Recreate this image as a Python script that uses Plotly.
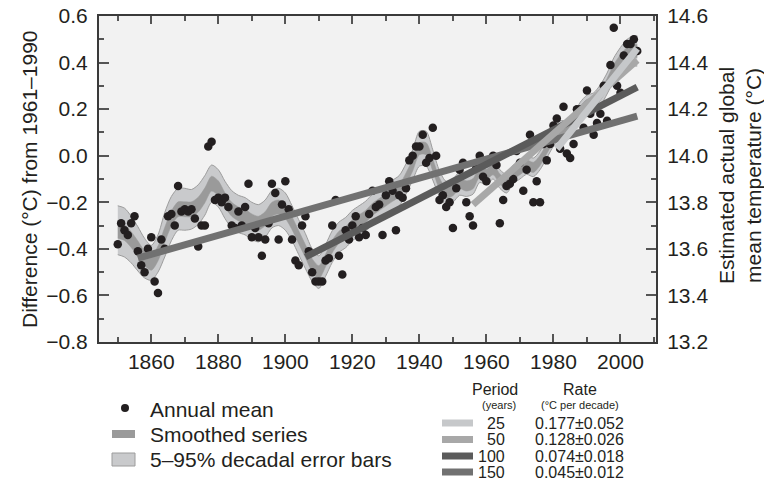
import plotly.graph_objects as go

# ---------------- data ----------------
years = list(range(1850, 2006))
annual_mean = [
    -0.38, -0.29, -0.32, -0.34, -0.29, -0.26, -0.41, -0.47, -0.50, -0.40,   # 1850-1859
    -0.35, -0.54, -0.59, -0.36, -0.40, -0.26, -0.25, -0.30, -0.13, -0.24,   # 1860-1869
    -0.23, -0.24, -0.23, -0.27, -0.39, -0.30, -0.30, 0.04, 0.06, -0.19,     # 1870-1879
    -0.18, -0.20, -0.18, -0.22, -0.30, -0.31, -0.24, -0.30, -0.22, -0.12,   # 1880-1889
    -0.35, -0.31, -0.35, -0.43, -0.36, -0.29, -0.12, -0.16, -0.36, -0.21,   # 1890-1899
    -0.11, -0.23, -0.36, -0.45, -0.47, -0.30, -0.26, -0.41, -0.50, -0.54,   # 1900-1909
    -0.54, -0.54, -0.45, -0.44, -0.30, -0.19, -0.43, -0.51, -0.32, -0.36,   # 1910-1919
    -0.30, -0.26, -0.35, -0.31, -0.34, -0.25, -0.15, -0.22, -0.21, -0.34,   # 1920-1929
    -0.17, -0.11, -0.15, -0.32, -0.17, -0.18, -0.14, -0.02, 0.00, 0.04,     # 1930-1939
    0.04, 0.09, -0.03, -0.01, 0.12, 0.00, -0.19, -0.17, -0.22, -0.20,       # 1940-1949
    -0.31, -0.14, -0.06, -0.03, -0.20, -0.26, -0.30, -0.05, 0.00, -0.09,    # 1950-1959
    -0.11, -0.02, 0.00, -0.04, -0.29, -0.19, -0.13, -0.12, -0.10, 0.02,     # 1960-1969
    -0.03, -0.15, -0.06, 0.09, -0.20, -0.11, -0.20, 0.05, -0.02, 0.05,      # 1970-1979
    0.13, 0.16, 0.03, 0.21, 0.01, -0.01, 0.05, 0.20, 0.20, 0.12,            # 1980-1989
    0.28, 0.18, 0.09, 0.14, 0.18, 0.30, 0.15, 0.39, 0.55, 0.30,             # 1990-1999
    0.27, 0.43, 0.48, 0.48, 0.50, 0.45,                                     # 2000-2005
]

smooth_years = list(range(1850, 2005, 2)) + [2005]
smoothed = [
    -0.32, -0.33, -0.36, -0.40, -0.44, -0.46, -0.42, -0.34, -0.27, -0.23,   # 1850-1868
    -0.23, -0.23, -0.21, -0.17, -0.12, -0.14, -0.19, -0.23, -0.25, -0.26,   # 1870-1888
    -0.28, -0.29, -0.27, -0.23, -0.22, -0.24, -0.29, -0.35, -0.41, -0.47,   # 1890-1908
    -0.50, -0.45, -0.39, -0.35, -0.33, -0.30, -0.28, -0.26, -0.23, -0.21,   # 1910-1928
    -0.19, -0.17, -0.15, -0.10, -0.04, 0.03, 0.03, -0.04, -0.12, -0.16,     # 1930-1948
    -0.15, -0.12, -0.13, -0.12, -0.07, -0.08, -0.06, -0.10, -0.12, -0.08,   # 1950-1968
    -0.06, -0.04, -0.05, -0.02, 0.03, 0.08, 0.11, 0.11, 0.14, 0.19,         # 1970-1988
    0.22, 0.23, 0.26, 0.31, 0.37, 0.41, 0.44, 0.45, 0.45,                   # 1990-2005
]
error_half = [
    0.105, 0.105, 0.10, 0.095, 0.085, 0.075, 0.08, 0.095, 0.095, 0.09,
    0.09, 0.085, 0.085, 0.085, 0.08, 0.08, 0.08, 0.08, 0.08, 0.08,
    0.08, 0.08, 0.08, 0.08, 0.08, 0.08, 0.075, 0.075, 0.075, 0.07,
    0.07, 0.068, 0.068, 0.065, 0.065, 0.065, 0.065, 0.065, 0.065, 0.065,
    0.065, 0.065, 0.065, 0.065, 0.065, 0.075, 0.075, 0.065, 0.055, 0.05,
    0.05, 0.05, 0.045, 0.045, 0.045, 0.045, 0.04, 0.04, 0.04, 0.04,
    0.04, 0.04, 0.04, 0.04, 0.04, 0.04, 0.04, 0.04, 0.04, 0.04,
    0.04, 0.04, 0.045, 0.045, 0.05, 0.055, 0.06, 0.065, 0.065,
]
smooth_half = [
    0.034, 0.034, 0.034, 0.034, 0.032, 0.032, 0.032, 0.032, 0.032, 0.032,
    0.032, 0.032, 0.032, 0.032, 0.032, 0.032, 0.03, 0.03, 0.03, 0.03,
    0.03, 0.03, 0.03, 0.03, 0.03, 0.03, 0.028, 0.028, 0.028, 0.028,
    0.028, 0.027, 0.027, 0.026, 0.026, 0.026, 0.026, 0.026, 0.026, 0.026,
    0.026, 0.026, 0.026, 0.026, 0.026, 0.026, 0.026, 0.026, 0.024, 0.022,
    0.022, 0.022, 0.022, 0.022, 0.022, 0.022, 0.022, 0.022, 0.022, 0.022,
    0.022, 0.022, 0.022, 0.022, 0.022, 0.022, 0.022, 0.022, 0.022, 0.022,
    0.022, 0.022, 0.022, 0.022, 0.022, 0.024, 0.026, 0.028, 0.028,
]

baseline_actual = 14.0   # 1961-1990 mean (deg C) for right axis

periods = ["25", "50", "100", "150"]
rates = ["0.177\u00b10.052", "0.128\u00b10.026", "0.074\u00b10.018", "0.045\u00b10.012"]
trend_start = [1981, 1956, 1906, 1856]
trend_end = [2005, 2005, 2005, 2005]
trend_start_val = [0.03, -0.21, -0.435, -0.44]
trend_end_val = [0.46, 0.41, 0.295, 0.17]
trend_colors = ["#c6c8ca", "#a8a8a8", "#5b5b5b", "#717171"]

x_ticks = list(range(1860, 2001, 20))

# ---------------- layout geometry (pixels) ----------------
W, H = 764, 481
L, R, T, B = 99, 656, 16, 342
FONT = "Liberation Sans, Arial, Helvetica, sans-serif"
INK = "#231f20"


def px(x):
    return (x - L) / (R - L)


def py(y):
    return (B - y) / (B - T)


fig = go.Figure()

# error band
fig.add_trace(go.Scatter(
    x=smooth_years, y=[c + h for c, h in zip(smoothed, error_half)],
    mode="lines", line=dict(color="#9c9c9c", width=1, shape="spline", smoothing=0.8),
    showlegend=False, hoverinfo="skip"))
fig.add_trace(go.Scatter(
    x=smooth_years, y=[c - h for c, h in zip(smoothed, error_half)],
    mode="lines", line=dict(color="#9c9c9c", width=1, shape="spline", smoothing=0.8),
    fill="tonexty", fillcolor="#c9cacc", showlegend=False, hoverinfo="skip"))

# smoothed series
fig.add_trace(go.Scatter(
    x=smooth_years, y=[c + h for c, h in zip(smoothed, smooth_half)],
    mode="lines", line=dict(color="#9a9a9a", width=0.5, shape="spline", smoothing=0.8),
    showlegend=False, hoverinfo="skip"))
fig.add_trace(go.Scatter(
    x=smooth_years, y=[c - h for c, h in zip(smoothed, smooth_half)],
    mode="lines", line=dict(color="#9a9a9a", width=0.5, shape="spline", smoothing=0.8),
    fill="tonexty", fillcolor="#9a9a9a", showlegend=False, hoverinfo="skip"))

# annual means
fig.add_trace(go.Scatter(
    x=years, y=annual_mean, mode="markers",
    marker=dict(color=INK, size=8.5, line=dict(width=0)),
    showlegend=False))

# linear trends (150, 100, 50, 25 order of drawing)
for i in [3, 2, 1, 0]:
    fig.add_trace(go.Scatter(
        x=[trend_start[i], trend_end[i]], y=[trend_start_val[i], trend_end_val[i]],
        mode="lines", line=dict(color=trend_colors[i], width=7),
        showlegend=False, hoverinfo="skip"))

# right axis carrier (invisible)
fig.add_trace(go.Scatter(
    x=years, y=[v + baseline_actual for v in annual_mean], yaxis="y2",
    mode="markers", marker=dict(opacity=0), showlegend=False, hoverinfo="skip"))

axis_common = dict(
    showgrid=False, zeroline=False, showline=True, linecolor="#3a3a3a", linewidth=2,
    ticks="inside", tickcolor="#555555", tickwidth=2,
    tickfont=dict(family=FONT, size=21, color=INK),
)

fig.update_layout(
    width=W, height=H,
    margin=dict(l=L, r=W - R, t=T, b=H - B, autoexpand=False),
    paper_bgcolor="white", plot_bgcolor="#f2f2f2",
    font=dict(family=FONT, color=INK),
    xaxis=dict(
        range=[1844.4, 2010.6], tickvals=x_ticks, ticklen=8, mirror="ticks",
        minor=dict(dtick=10, tick0=1850, ticklen=5, ticks="inside",
                   tickcolor="#555555", tickwidth=1.5),
        **axis_common),
    yaxis=dict(
        range=[-0.8, 0.6], dtick=0.2, tick0=0, tickformat=".1f", ticklen=10,
        minor=dict(dtick=0.1, ticklen=5, ticks="inside", tickcolor="#555555", tickwidth=1.5),
        ticklabelstandoff=5,
        **axis_common),
    yaxis2=dict(
        range=[-0.8 + baseline_actual, 0.6 + baseline_actual], dtick=0.2, tick0=14.0,
        tickformat=".1f", ticklen=10, overlaying="y", side="right",
        minor=dict(dtick=0.1, ticklen=5, ticks="inside", tickcolor="#555555", tickwidth=1.5),
        ticklabelstandoff=5,
        **axis_common),
)

ann = []
shapes = []

# axis titles
ann.append(dict(x=px(29), y=0.5, xref="paper", yref="paper", textangle=-90,
                text="Difference (\u00b0C) from 1961\u20131990", showarrow=False,
                xanchor="center", yanchor="middle", font=dict(size=21)))
ann.append(dict(x=px(740), y=py(176), xref="paper", yref="paper", textangle=-90,
                text="Estimated actual global<br>mean temperature (\u00b0C)", showarrow=False,
                xanchor="center", yanchor="middle", font=dict(size=21)))

# left legend
shapes.append(dict(type="circle", xref="paper", yref="paper",
                   x0=px(121), x1=px(129), y0=py(412), y1=py(404),
                   fillcolor=INK, line=dict(width=0)))
shapes.append(dict(type="rect", xref="paper", yref="paper",
                   x0=px(112), x1=px(135), y0=py(438), y1=py(430),
                   fillcolor="#9a9a9a", line=dict(width=0)))
shapes.append(dict(type="rect", xref="paper", yref="paper",
                   x0=px(112), x1=px(135), y0=py(466), y1=py(453),
                   fillcolor="#c9cacc", line=dict(color="#9c9c9c", width=1)))
for txt, yy in [("Annual mean", 410), ("Smoothed series", 434),
                ("5\u201395% decadal error bars", 459)]:
    ann.append(dict(x=px(148), y=py(yy), xref="paper", yref="paper", text=txt,
                    showarrow=False, xanchor="left", yanchor="middle", font=dict(size=21)))

# trend table
ann.append(dict(x=px(495), y=py(389.5), xref="paper", yref="paper", text="Period",
                showarrow=False, xanchor="center", yanchor="middle", font=dict(size=16)))
ann.append(dict(x=px(499), y=py(405), xref="paper", yref="paper", text="(years)",
                showarrow=False, xanchor="center", yanchor="middle", font=dict(size=11)))
ann.append(dict(x=px(580), y=py(389.5), xref="paper", yref="paper", text="Rate",
                showarrow=False, xanchor="center", yanchor="middle", font=dict(size=16)))
ann.append(dict(x=px(580), y=py(405), xref="paper", yref="paper", text="(\u00b0C per decade)",
                showarrow=False, xanchor="center", yanchor="middle", font=dict(size=11)))
row_y = [423, 439.5, 456, 472]
for i in range(4):
    shapes.append(dict(type="rect", xref="paper", yref="paper",
                       x0=px(442), x1=px(473), y0=py(row_y[i] + 3.5), y1=py(row_y[i] - 3.5),
                       fillcolor=trend_colors[i], line=dict(width=0)))
    ann.append(dict(x=px(507), y=py(row_y[i]), xref="paper", yref="paper", text=periods[i],
                    showarrow=False, xanchor="right", yanchor="middle", font=dict(size=16)))
    ann.append(dict(x=px(579), y=py(row_y[i]), xref="paper", yref="paper", text=rates[i],
                    showarrow=False, xanchor="center", yanchor="middle", font=dict(size=16)))

fig.update_layout(annotations=ann, shapes=shapes)

fig.write_html("out.html")
